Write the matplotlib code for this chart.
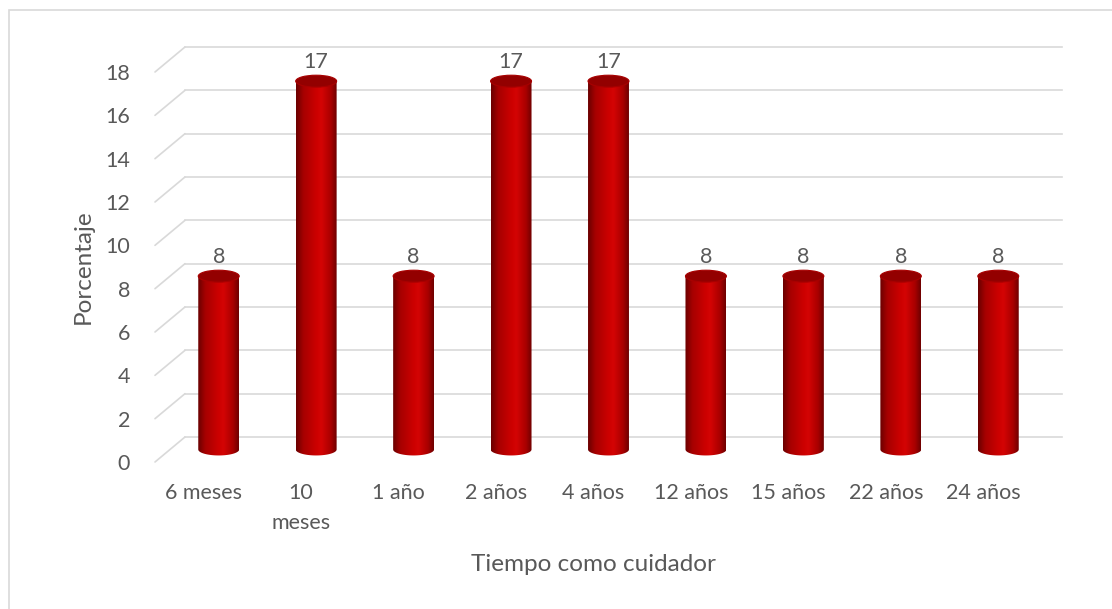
import numpy as np
import matplotlib
matplotlib.use('Agg')
import matplotlib.pyplot as plt
from matplotlib import transforms
from matplotlib.patches import Ellipse, Rectangle
from matplotlib.path import Path
from matplotlib.colors import LinearSegmentedColormap

# datos
categorias = ['6 meses', '10\nmeses', '1 año', '2 años', '4 años',
              '12 años', '15 años', '22 años', '24 años']
porcentajes = [8, 17, 8, 17, 17, 8, 8, 8, 8]
ticks_y = list(range(0, 19, 2))

gris_texto = '#595959'
gris_linea = '#d9d9d9'
plt.rcParams['font.family'] = ['Lato', 'DejaVu Sans']

fig = plt.figure(figsize=(11.12, 6.09), dpi=100)
ax = fig.add_axes([155 / 1112, 147 / 609, 877 / 1112, 390 / 609])
ax.set_xlim(-0.5, len(categorias) - 0.5)
ax.set_ylim(0, 18)
for s in ax.spines.values():
    s.set_visible(False)

# profundidad del grafico 3D (pared del fondo y plano medio de las barras)
fondo = transforms.offset_copy(ax.transData, fig, x=30, y=25, units='dots')
medio = transforms.offset_copy(ax.transData, fig, x=15, y=12.5, units='dots')

# rejilla: pared del fondo + lineas del lateral izquierdo
for v in ticks_y:
    ax.plot([-0.5, len(categorias) - 0.5], [v, v], color=gris_linea, lw=1.2,
            transform=fondo, clip_on=False, zorder=0)
    ax.annotate('', xy=(-0.5, v), xycoords=fondo, xytext=(-0.5, v), textcoords='data',
                arrowprops=dict(arrowstyle='-', color=gris_linea, lw=1.2,
                                shrinkA=0, shrinkB=0), annotation_clip=False, zorder=0)

# cilindros
ancho = 0.42
alto_elipse = 0.55
cmap = LinearSegmentedColormap.from_list('cil', [
    (0.0, '#6a0000'), (0.18, '#a60000'), (0.5, '#cc0000'),
    (0.62, '#d40404'), (0.85, '#aa0000'), (1.0, '#6e0000')])
grad = cmap(np.linspace(0, 1, 256)).reshape(1, 256, 4)

for i, v in enumerate(porcentajes):
    x0, x1 = i - ancho / 2, i + ancho / 2
    t = np.linspace(np.pi, 2 * np.pi, 40)
    arco = np.column_stack([i + ancho / 2 * np.cos(t), alto_elipse / 2 * np.sin(t)])
    verts = np.vstack([[x0, v], arco, [x1, v], [x0, v]])
    codes = [Path.MOVETO] + [Path.LINETO] * (len(verts) - 2) + [Path.CLOSEPOLY]
    cuerpo = Path(verts, codes)
    im = ax.imshow(grad, extent=[x0, x1, -alto_elipse, v], aspect='auto',
                   transform=medio, interpolation='bilinear', zorder=2)
    im.set_clip_path(cuerpo, medio)
    tapa = Ellipse((i, v), ancho, alto_elipse, facecolor='#930000',
                   edgecolor='#a80000', lw=0.8, transform=medio, zorder=3)
    ax.add_patch(tapa)
    ax.annotate(str(v), xy=(i, v), xycoords=medio, xytext=(0, 14),
                textcoords='offset points', ha='center', va='center',
                fontsize=15.5, color=gris_texto, annotation_clip=False)

ax.set_xlim(-0.5, len(categorias) - 0.5)
ax.set_ylim(0, 18)

ax.set_xticks(range(len(categorias)))
ax.set_xticklabels(categorias, fontsize=15.5, color=gris_texto, linespacing=1.65)
ax.set_yticks(ticks_y)
ax.set_yticklabels([str(v) for v in ticks_y], fontsize=15.5, color=gris_texto)
ax.tick_params(axis='x', length=0, pad=15)
ax.tick_params(axis='y', length=0, pad=18)

ax.set_xlabel('Tiempo como cuidador', fontsize=17.5, color=gris_texto, labelpad=15)
ax.set_ylabel('Porcentaje', fontsize=17.5, color=gris_texto, labelpad=8)

# borde del area del grafico
fig.add_artist(Rectangle((8.5 / 1112, -0.1), 1.2, (609 - 10) / 609 + 0.1,
                         transform=fig.transFigure, fill=False,
                         edgecolor=gris_linea, lw=1.2))

fig.savefig('out.png', dpi=100)
